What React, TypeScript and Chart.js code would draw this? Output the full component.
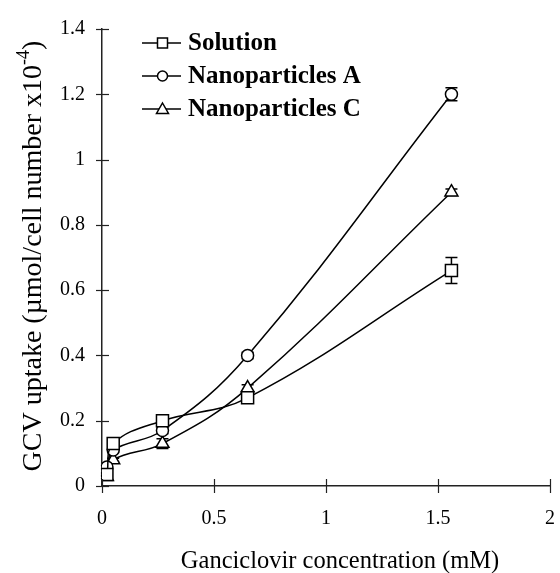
import React, { useEffect, useRef } from "react";
import { Chart, registerables } from "chart.js";

Chart.register(...registerables);

const concentrations = [0.022, 0.05, 0.27, 0.65, 1.56];
const seriesNames = ["Solution", "Nanoparticles A", "Nanoparticles C"];
const solution = [0.035, 0.13, 0.2, 0.27, 0.66];
const solutionErr = [0.005, 0.01, 0.01, 0.01, 0.04];
const nanoA = [0.058, 0.11, 0.17, 0.4, 1.2];
const nanoAErr = [0.005, 0.005, 0.01, 0.01, 0.02];
const nanoC = [0.028, 0.08, 0.13, 0.3, 0.9];
const nanoCErr = [0.005, 0.005, 0.015, 0.01, 0.01];
const pointStyles = ["rect", "circle", "triangle"];
const pointSizes = [8.5, 6, 7.5];
const xTitle = "Ganciclovir concentration (mM)";
const yTitleMain = "GCV uptake (\u00b5mol/cell number x10";
const yTitleSup = "-4";
const yTitleEnd = ")";

const SERIF = "'Liberation Serif', 'Times New Roman', serif";

const errorBarPlugin = {
  id: "errorBars",
  beforeDatasetsDraw(chart: any) {
    const ctx = chart.ctx;
    const xs = chart.scales.x;
    const ys = chart.scales.y;
    const errs = [solutionErr, nanoAErr, nanoCErr];
    const vals = [solution, nanoA, nanoC];
    ctx.save();
    ctx.strokeStyle = "#000";
    ctx.lineWidth = 1.5;
    vals.forEach((arr, si) => {
      arr.forEach((v, i) => {
        const e = errs[si][i];
        const x = xs.getPixelForValue(concentrations[i]);
        const yt = ys.getPixelForValue(v + e);
        const yb = ys.getPixelForValue(v - e);
        ctx.beginPath();
        ctx.moveTo(x, yt);
        ctx.lineTo(x, yb);
        ctx.moveTo(x - 6, yt);
        ctx.lineTo(x + 6, yt);
        ctx.moveTo(x - 6, yb);
        ctx.lineTo(x + 6, yb);
        ctx.stroke();
      });
    });
    ctx.restore();
  },
};

const decorPlugin = {
  id: "decor",
  afterDraw(chart: any) {
    const ctx = chart.ctx;
    const xs = chart.scales.x;
    const ys = chart.scales.y;
    const area = chart.chartArea;
    ctx.save();
    ctx.strokeStyle = "#222";
    ctx.lineWidth = 1.2;
    xs.ticks.forEach((t: any) => {
      const x = Math.round(xs.getPixelForValue(t.value)) + 0.5;
      ctx.beginPath();
      ctx.moveTo(x, area.bottom - 7);
      ctx.lineTo(x, area.bottom + 7);
      ctx.stroke();
    });
    ys.ticks.forEach((t: any) => {
      const y = Math.round(ys.getPixelForValue(t.value)) + 0.5;
      ctx.beginPath();
      ctx.moveTo(area.left - 6, y);
      ctx.lineTo(area.left + 7, y);
      ctx.stroke();
    });
    ctx.restore();

    // x title
    ctx.save();
    ctx.fillStyle = "#000";
    ctx.font = "24.5px " + SERIF;
    ctx.textAlign = "center";
    ctx.textBaseline = "alphabetic";
    ctx.fillText(xTitle, 340, 568);
    ctx.restore();

    // y title with superscript
    ctx.save();
    ctx.fillStyle = "#000";
    ctx.translate(41, 256);
    ctx.rotate(-Math.PI / 2);
    const mainFont = "28px " + SERIF;
    const supFont = "18px " + SERIF;
    ctx.font = mainFont;
    const w1 = ctx.measureText(yTitleMain).width;
    const w3 = ctx.measureText(yTitleEnd).width;
    ctx.font = supFont;
    const w2 = ctx.measureText(yTitleSup).width;
    const total = w1 + w2 + w3;
    let x0 = -total / 2;
    ctx.textBaseline = "alphabetic";
    ctx.textAlign = "left";
    ctx.font = mainFont;
    ctx.fillText(yTitleMain, x0, 0);
    x0 += w1;
    ctx.font = supFont;
    ctx.fillText(yTitleSup, x0, -12);
    x0 += w2;
    ctx.font = mainFont;
    ctx.fillText(yTitleEnd, x0, 0);
    ctx.restore();

    // legend
    ctx.save();
    ctx.strokeStyle = "#000";
    seriesNames.forEach((name, i) => {
      const y = 43 + i * 33;
      ctx.lineWidth = 1.5;
      ctx.beginPath();
      ctx.moveTo(142, y);
      ctx.lineTo(181, y);
      ctx.stroke();
      ctx.fillStyle = "#fff";
      const cx = 162.5;
      ctx.beginPath();
      if (pointStyles[i] === "rect") {
        ctx.rect(cx - 5, y - 5, 10, 10);
      } else if (pointStyles[i] === "circle") {
        ctx.arc(cx, y, 5, 0, Math.PI * 2);
      } else {
        ctx.moveTo(cx, y - 6);
        ctx.lineTo(cx + 6, y + 4.5);
        ctx.lineTo(cx - 6, y + 4.5);
        ctx.closePath();
      }
      ctx.fill();
      ctx.stroke();
      ctx.fillStyle = "#000";
      ctx.font = "bold 25px " + SERIF;
      ctx.textBaseline = "middle";
      ctx.textAlign = "left";
      ctx.fillText(name, 188, y + 1);
    });
    ctx.restore();
  },
};

export default function App() {
  const ref = useRef<HTMLCanvasElement | null>(null);
  useEffect(() => {
    if (!ref.current) return;
    const series = [solution, nanoA, nanoC];
    const chart = new Chart(ref.current, {
      type: "scatter",
      data: {
        datasets: series.map((arr, si) => ({
          label: seriesNames[si],
          data: arr.map((v, i) => ({ x: concentrations[i], y: v })),
          showLine: true,
          tension: 0.4,
          borderColor: "#000",
          borderWidth: 1.5,
          pointStyle: pointStyles[si] as any,
          pointRadius: pointSizes[si],
          pointBackgroundColor: "#fff",
          pointBorderColor: "#000",
          pointBorderWidth: 1.5,
        })),
      },
      options: {
        animation: false,
        responsive: true,
        maintainAspectRatio: false,
        layout: { padding: { top: 22, right: 0, left: 0, bottom: 0 } },
        plugins: { legend: { display: false }, tooltip: { enabled: false } },
        scales: {
          x: {
            type: "linear",
            min: 0,
            max: 2,
            afterFit: (s: any) => {
              s.height = 87;
            },
            grid: { display: false, drawTicks: false },
            border: { display: true, color: "#222", width: 1.5 },
            ticks: {
              stepSize: 0.5,
              padding: 0,
              color: "#000",
              font: { family: SERIF, size: 20, lineHeight: "66px" },
              callback: (v: any) => String(Math.round(Number(v) * 10) / 10),
            },
          },
          y: {
            type: "linear",
            min: 0,
            max: 1.4,
            afterFit: (s: any) => {
              s.width = 102;
            },
            grid: { display: false, drawTicks: false },
            border: { display: true, color: "#222", width: 1.5 },
            ticks: {
              stepSize: 0.2,
              padding: 17,
              color: "#000",
              font: { family: SERIF, size: 20 },
              callback: (v: any) => String(Math.round(Number(v) * 10) / 10),
            },
          },
        },
      },
      plugins: [errorBarPlugin, decorPlugin],
    });
    return () => chart.destroy();
  }, []);
  return (
    <div style={{ position: "fixed", left: 0, top: 0, width: 560, height: 573, background: "#fff" }}>
      <canvas ref={ref} />
    </div>
  );
}
